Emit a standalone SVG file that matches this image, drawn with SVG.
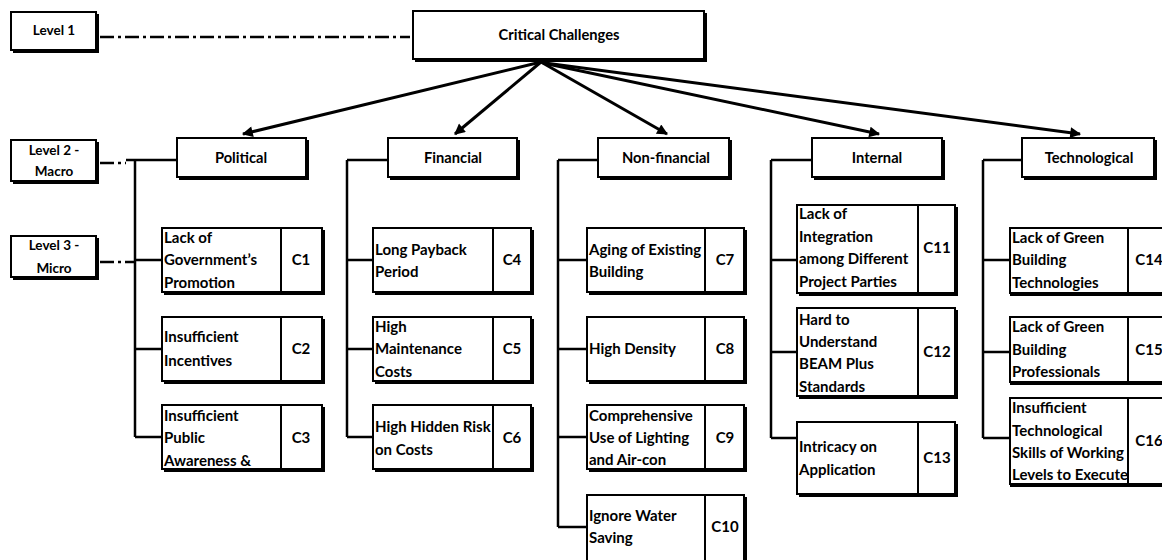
<svg xmlns="http://www.w3.org/2000/svg" width="1162" height="560" viewBox="0 0 1162 560">
<style>
  .box{fill:#fff;stroke:#000;stroke-width:2}
  .sh{fill:none;stroke:#000;stroke-width:3}
  .dv{stroke:#000;stroke-width:2}
  .t{font-family:Lato,"Liberation Sans",sans-serif;font-weight:bold;font-size:15px;fill:#000}
  .c{text-anchor:middle}
  .lv{font-size:13.5px}
  .hd{font-size:14.7px}
  .ln{fill:none;stroke:#000;stroke-width:2.5}
  .dd{fill:none;stroke:#000;stroke-width:2.5;stroke-dasharray:14 4 3 4}
  .ar{fill:none;stroke:#000;stroke-width:3;marker-end:url(#ah)}
</style>
<defs>
  <marker id="ah" viewBox="0 0 10 10" refX="9" refY="5" markerWidth="4" markerHeight="3.6" orient="auto" markerUnits="strokeWidth">
    <path d="M0,0 L10,5 L0,10 z" fill="#000"/>
  </marker>
</defs>
<rect width="1162" height="560" fill="#fff"/>

<g id="connectors">
  <path class="dd" d="M100,37 H410"/>
  <path class="dd" d="M100,163 H126"/>
  <path class="dd" d="M100,262 H135"/>
  <path class="ar" d="M541,62 L243,134"/>
  <path class="ar" d="M541,62 L455,134"/>
  <path class="ar" d="M541,62 L667,134"/>
  <path class="ar" d="M543,63 L879,134"/>
  <path class="ar" d="M545,63 L1080,134"/>
  <path class="ln" d="M126,160 H177 M135,160 V437 M135,260 H162 M135,349 H162 M135,437 H162"/>
  <path class="ln" d="M347,160 H388 M347,160 V437 M347,260 H373 M347,349 H373 M347,437 H373"/>
  <path class="ln" d="M558,160 H598 M558,160 V527 M558,260 H587 M558,349 H587 M558,437 H587 M558,527 H587"/>
  <path class="ln" d="M771,160 H812 M771,160 V438 M771,260 H797 M771,352 H797 M771,438 H797"/>
  <path class="ln" d="M983,160 H1022 M983,160 V438 M983,260 H1010 M983,352 H1010 M983,438 H1010"/>
</g>

<g id="level1">
  <rect class="box" x="11" y="12" width="85" height="38"/>
  <path class="sh" d="M97.5,14 V51.5 H13"/>
  <text class="t lv c" x="54" y="35">Level 1</text>
</g>
<g id="level2">
  <rect class="box" x="11" y="140" width="85" height="41"/>
  <path class="sh" d="M97.5,142 V182.5 H13"/>
  <text class="t lv c" x="54" y="155">Level 2 -</text>
  <text class="t lv c" x="54" y="176">Macro</text>
</g>
<g id="level3">
  <rect class="box" x="11" y="236" width="85" height="41"/>
  <path class="sh" d="M97.5,238 V278.5 H13"/>
  <text class="t lv c" x="54" y="250">Level 3 -</text>
  <text class="t lv c" x="54" y="273">Micro</text>
</g>

<g id="critical">
  <rect class="box" x="413" y="11" width="291" height="48"/>
  <path class="sh" d="M705.5,13 V60.5 H415"/>
  <text class="t hd c" x="559" y="40">Critical Challenges</text>
</g>

<g id="political">
  <rect class="box" x="177" y="138" width="129" height="39"/>
  <path class="sh" d="M307.5,140 V178.5 H179"/>
  <text class="t hd c" x="241" y="163">Political</text>
</g>
<g id="financial">
  <rect class="box" x="388" y="138" width="129" height="39"/>
  <path class="sh" d="M518.5,140 V178.5 H390"/>
  <text class="t hd c" x="453" y="163">Financial</text>
</g>
<g id="nonfinancial">
  <rect class="box" x="598" y="138" width="131" height="39"/>
  <path class="sh" d="M730.5,140 V178.5 H600"/>
  <text class="t hd c" x="666" y="163">Non-financial</text>
</g>
<g id="internal">
  <rect class="box" x="812" y="138" width="130" height="39"/>
  <path class="sh" d="M943.5,140 V178.5 H814"/>
  <text class="t hd c" x="877" y="163">Internal</text>
</g>
<g id="technological">
  <rect class="box" x="1022" y="138" width="132" height="39"/>
  <path class="sh" d="M1155.5,140 V178.5 H1024"/>
  <text class="t hd c" x="1089" y="163">Technological</text>
</g>

<g id="c1">
  <rect class="box" x="162" y="228" width="160" height="64"/>
  <path class="sh" d="M323.5,230 V293.5 H164"/>
  <line class="dv" x1="281" y1="228" x2="281" y2="292"/>
  <text class="t" x="164" y="243">Lack of</text>
  <text class="t" x="164" y="265">Government’s</text>
  <text class="t" x="164" y="288">Promotion</text>
  <text class="t c" x="301" y="265">C1</text>
</g>
<g id="c2">
  <rect class="box" x="162" y="317" width="160" height="64"/>
  <path class="sh" d="M323.5,319 V382.5 H164"/>
  <line class="dv" x1="281" y1="317" x2="281" y2="381"/>
  <text class="t" x="164" y="342">Insufficient</text>
  <text class="t" x="164" y="366">Incentives</text>
  <text class="t c" x="301" y="354">C2</text>
</g>
<g id="c3">
  <rect class="box" x="162" y="405" width="160" height="64"/>
  <path class="sh" d="M323.5,407 V470.5 H164"/>
  <line class="dv" x1="281" y1="405" x2="281" y2="469"/>
  <text class="t" x="164" y="421">Insufficient</text>
  <text class="t" x="164" y="443">Public</text>
  <text class="t" x="164" y="466">Awareness &amp;</text>
  <text class="t c" x="301" y="443">C3</text>
</g>

<g id="c4">
  <rect class="box" x="373" y="228" width="158" height="64"/>
  <path class="sh" d="M532.5,230 V293.5 H375"/>
  <line class="dv" x1="493" y1="228" x2="493" y2="292"/>
  <text class="t" x="375" y="255">Long Payback</text>
  <text class="t" x="375" y="277">Period</text>
  <text class="t c" x="512" y="265">C4</text>
</g>
<g id="c5">
  <rect class="box" x="373" y="317" width="158" height="64"/>
  <path class="sh" d="M532.5,319 V382.5 H375"/>
  <line class="dv" x1="493" y1="317" x2="493" y2="381"/>
  <text class="t" x="375" y="332">High</text>
  <text class="t" x="375" y="354">Maintenance</text>
  <text class="t" x="375" y="377">Costs</text>
  <text class="t c" x="512" y="354">C5</text>
</g>
<g id="c6">
  <rect class="box" x="373" y="405" width="158" height="64"/>
  <path class="sh" d="M532.5,407 V470.5 H375"/>
  <line class="dv" x1="493" y1="405" x2="493" y2="469"/>
  <text class="t" x="375" y="432">High Hidden Risk</text>
  <text class="t" x="375" y="455">on Costs</text>
  <text class="t c" x="512" y="443">C6</text>
</g>

<g id="c7">
  <rect class="box" x="587" y="228" width="157" height="64"/>
  <path class="sh" d="M745.5,230 V293.5 H589"/>
  <line class="dv" x1="705" y1="228" x2="705" y2="292"/>
  <text class="t" x="589" y="255">Aging of Existing</text>
  <text class="t" x="589" y="277">Building</text>
  <text class="t c" x="725" y="265">C7</text>
</g>
<g id="c8">
  <rect class="box" x="587" y="317" width="157" height="64"/>
  <path class="sh" d="M745.5,319 V382.5 H589"/>
  <line class="dv" x1="705" y1="317" x2="705" y2="381"/>
  <text class="t" x="589" y="354">High Density</text>
  <text class="t c" x="725" y="354">C8</text>
</g>
<g id="c9">
  <rect class="box" x="587" y="405" width="157" height="64"/>
  <path class="sh" d="M745.5,407 V470.5 H589"/>
  <line class="dv" x1="705" y1="405" x2="705" y2="469"/>
  <text class="t" x="589" y="421">Comprehensive</text>
  <text class="t" x="589" y="443">Use of Lighting</text>
  <text class="t" x="589" y="465">and Air-con</text>
  <text class="t c" x="725" y="443">C9</text>
</g>
<g id="c10">
  <rect class="box" x="587" y="495" width="157" height="66"/>
  <line class="dv" x1="705" y1="495" x2="705" y2="561"/>
  <path class="sh" d="M745.5,497 V562"/>
  <text class="t" x="589" y="521">Ignore Water</text>
  <text class="t" x="589" y="543">Saving</text>
  <text class="t c" x="725" y="532">C10</text>
</g>

<g id="c11">
  <rect class="box" x="797" y="205" width="158" height="88"/>
  <path class="sh" d="M956.5,207 V294.5 H799"/>
  <line class="dv" x1="918" y1="205" x2="918" y2="293"/>
  <text class="t" x="799" y="219">Lack of</text>
  <text class="t" x="799" y="242">Integration</text>
  <text class="t" x="799" y="264">among Different</text>
  <text class="t" x="799" y="287">Project Parties</text>
  <text class="t c" x="937" y="253">C11</text>
</g>
<g id="c12">
  <rect class="box" x="797" y="308" width="158" height="88"/>
  <path class="sh" d="M956.5,310 V397.5 H799"/>
  <line class="dv" x1="918" y1="308" x2="918" y2="396"/>
  <text class="t" x="799" y="325">Hard to</text>
  <text class="t" x="799" y="347">Understand</text>
  <text class="t" x="799" y="369">BEAM Plus</text>
  <text class="t" x="799" y="392">Standards</text>
  <text class="t c" x="937" y="357">C12</text>
</g>
<g id="c13">
  <rect class="box" x="797" y="422" width="158" height="72"/>
  <path class="sh" d="M956.5,424 V495.5 H799"/>
  <line class="dv" x1="918" y1="422" x2="918" y2="494"/>
  <text class="t" x="799" y="452">Intricacy on</text>
  <text class="t" x="799" y="475">Application</text>
  <text class="t c" x="937" y="463">C13</text>
</g>

<g id="c14">
  <rect class="box" x="1010" y="228" width="160" height="65"/>
  <path class="sh" d="M1010,294.5 H1170"/>
  <line class="dv" x1="1128" y1="228" x2="1128" y2="293"/>
  <text class="t" x="1012" y="243">Lack of Green</text>
  <text class="t" x="1012" y="265">Building</text>
  <text class="t" x="1012" y="288">Technologies</text>
  <text class="t c" x="1149" y="265">C14</text>
</g>
<g id="c15">
  <rect class="box" x="1010" y="317" width="160" height="65"/>
  <path class="sh" d="M1010,383.5 H1170"/>
  <line class="dv" x1="1128" y1="317" x2="1128" y2="382"/>
  <text class="t" x="1012" y="332">Lack of Green</text>
  <text class="t" x="1012" y="355">Building</text>
  <text class="t" x="1012" y="377">Professionals</text>
  <text class="t c" x="1149" y="355">C15</text>
</g>
<g id="c16">
  <rect class="box" x="1010" y="398" width="160" height="86"/>
  <path class="sh" d="M1010,485.5 H1170"/>
  <line class="dv" x1="1128" y1="398" x2="1128" y2="484"/>
  <text class="t" x="1012" y="413">Insufficient</text>
  <text class="t" x="1012" y="436">Technological</text>
  <text class="t" x="1012" y="458">Skills of Working</text>
  <text class="t" x="1012" y="480">Levels to Execute</text>
  <text class="t c" x="1149" y="446">C16</text>
</g>
</svg>
